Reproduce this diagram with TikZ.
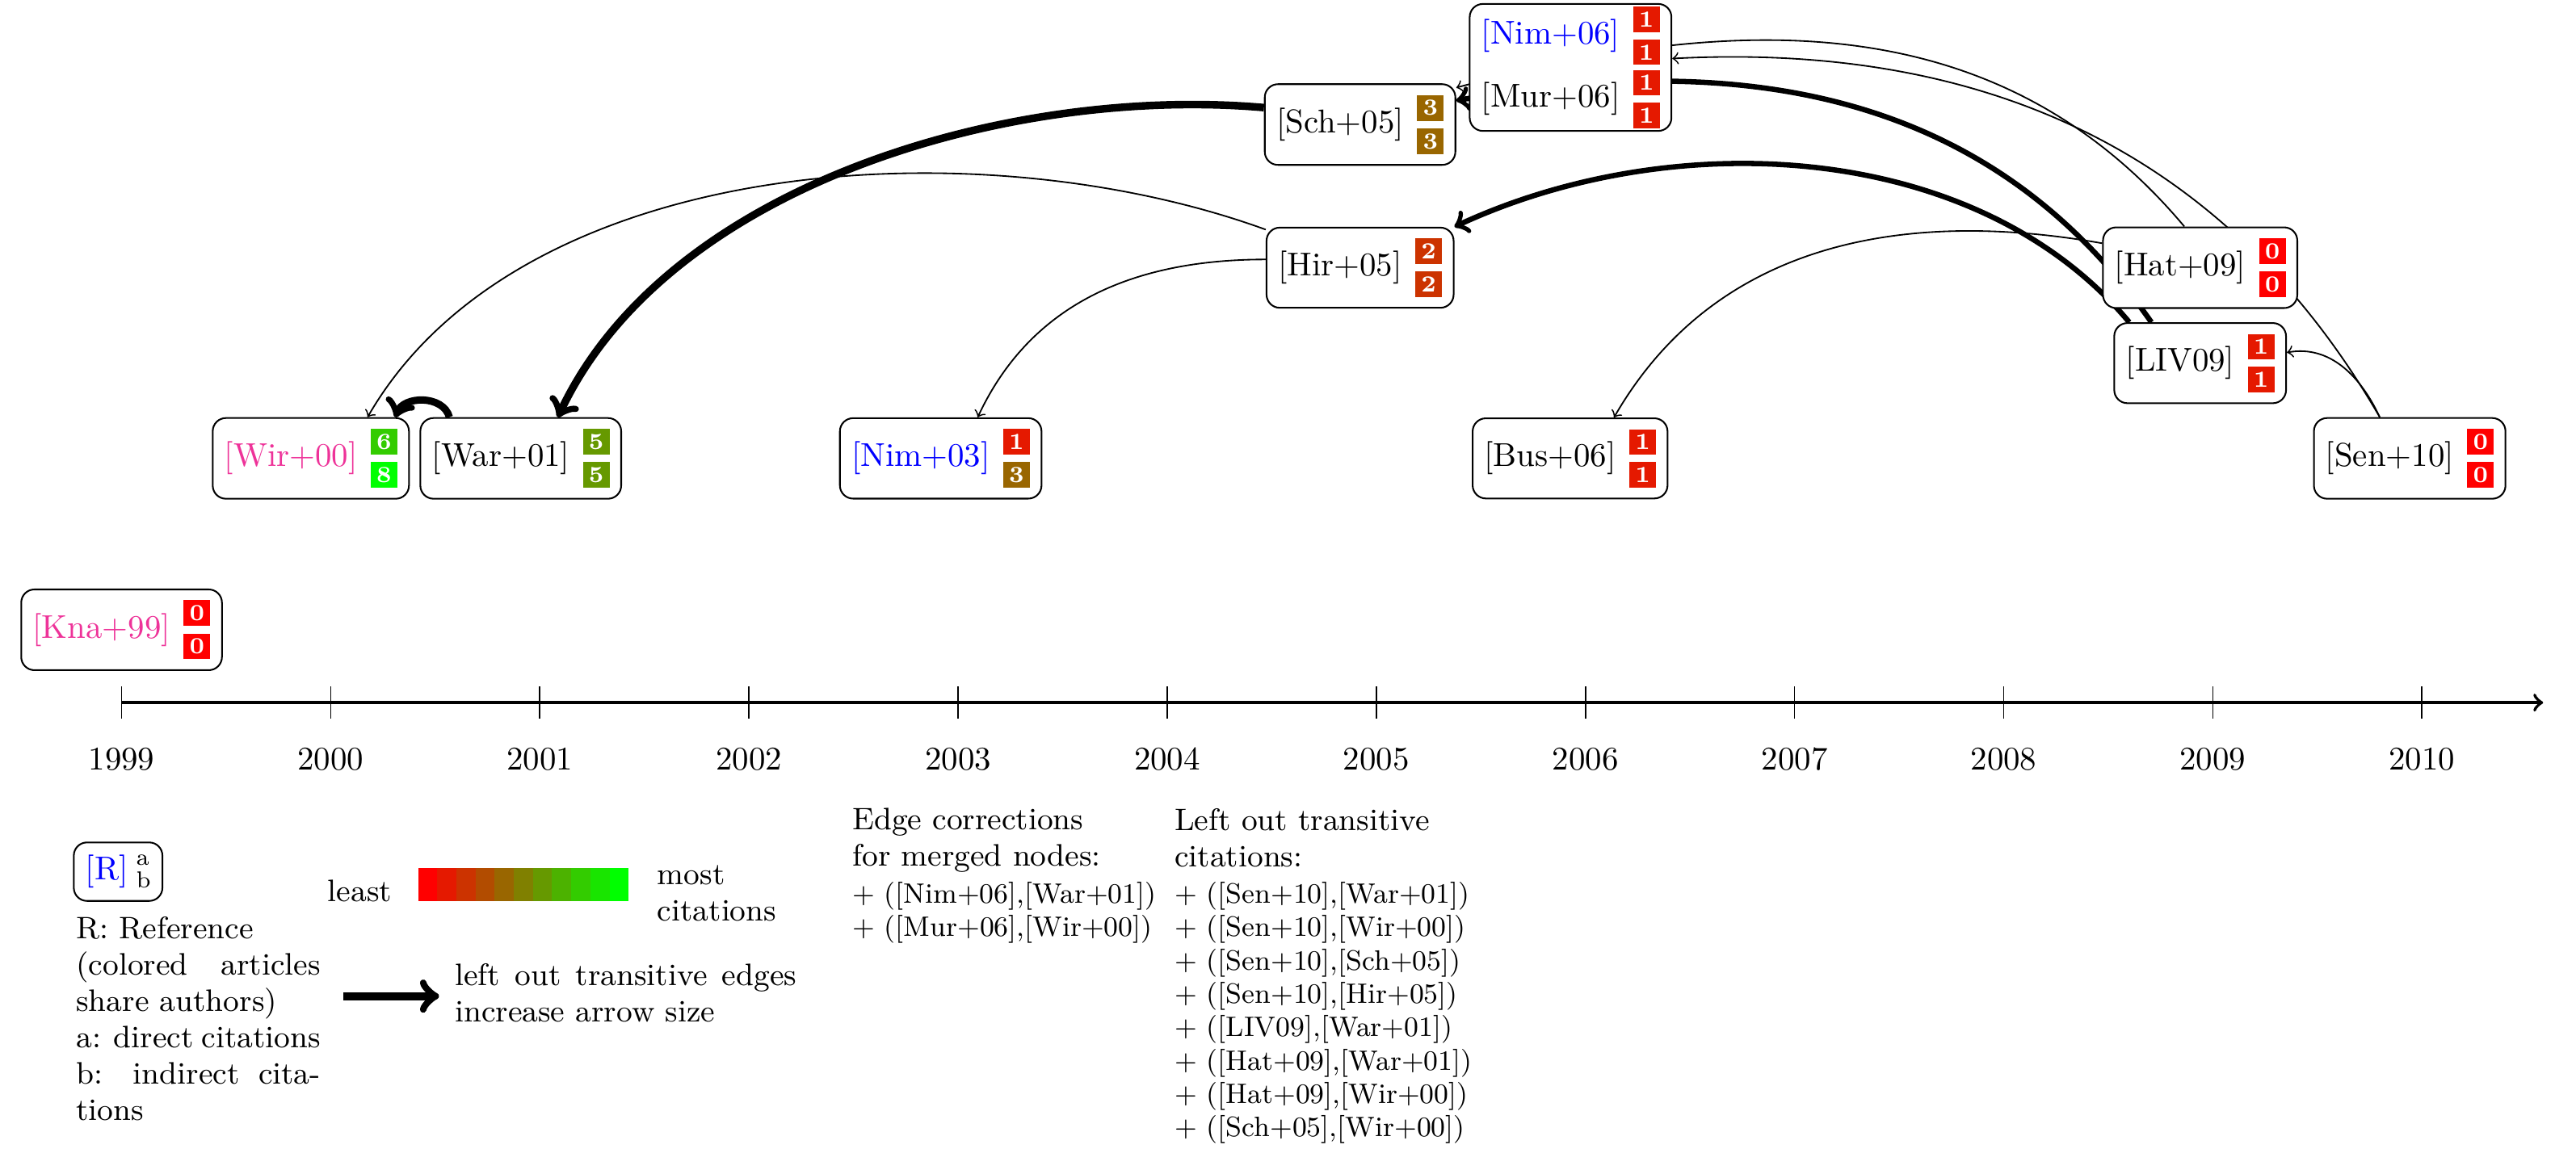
\documentclass[tikz,border=0pt]{standalone}
\usepackage{fontspec}
\usetikzlibrary{backgrounds}

\definecolor{refblue}{RGB}{0,0,255}
\definecolor{coauthor}{RGB}{238,51,153}

% citation counts: #1 = share of red, #2 = number
\newcommand{\cnt}[2]{{\setlength{\fboxsep}{1.55pt}%
    \colorbox{red!#1!green}{\makebox[5pt]{\color{white}\scriptsize\bfseries #2}}}}
\newcommand{\cnts}[4]{$\vcenter{\offinterlineskip
    \hbox{\cnt{#1}{#2}}\vskip2.3pt\hbox{\cnt{#3}{#4}}}$}
\newcommand{\art}[5]{#1\hspace{4pt}\cnts{#2}{#3}{#4}{#5}}
\newcommand{\legendfont}{\fontsize{9.4}{11}\selectfont}
\newcommand{\listfont}{\fontsize{8.5}{10.1}\selectfont}

\begin{document}
\begin{tikzpicture}[%
        paper/.style={draw, rounded corners=4pt, fill=white, line width=0.5pt,
            inner xsep=3.5pt, inner ysep=3.3pt},
        cite/.style={->, line width=0.45pt},
        legend/.style={inner sep=0pt, font=\legendfont}
    ]
        \useasboundingbox (-1.294,-4.973) rectangle (26.12,7.48);

        % time line
        \coordinate (t0) at (0,0);
        \coordinate (t1) at (25.77,0);
        \draw [->, line width=1pt] (t0) -- (t1);
        \foreach \y [count=\i from 0] in {1999,...,2010} {
            \draw (\i*2.2255,-0.17) -- (\i*2.2255,0.17);
            \node (y\y) at (\i*2.2255,-0.6) {\y};
        }

        % articles
        \node [paper] (kna) at (0,0.775)
            {\art{\textcolor{coauthor}{[Kna+99]}}{100}{0}{100}{0}};
        \node [paper] (wir) at (2.014,2.6)
            {\art{\textcolor{coauthor}{[Wir+00]}}{20}{6}{0}{8}};
        \node [paper] (war) at (4.248,2.6) {\art{[War+01]}{40}{5}{40}{5}};
        \node [paper] (nim3) at (8.717,2.6)
            {\art{\textcolor{refblue}{[Nim+03]}}{90}{1}{60}{3}};
        \node [paper] (bus) at (15.415,2.6) {\art{[Bus+06]}{90}{1}{90}{1}};
        \node [paper] (sen) at (24.35,2.6) {\art{[Sen+10]}{100}{0}{100}{0}};
        \node [paper] (liv) at (22.12,3.614) {\art{[LIV09]}{90}{1}{90}{1}};
        \node [paper] (hat) at (22.12,4.63) {\art{[Hat+09]}{100}{0}{100}{0}};
        \node [paper] (hir) at (13.18,4.63) {\art{[Hir+05]}{80}{2}{80}{2}};
        \node [paper] (sch) at (13.18,6.154) {\art{[Sch+05]}{60}{3}{60}{3}};
        \node [paper, inner ysep=0.8pt] (mrg) at (15.42,6.762) {\vbox{\offinterlineskip
            \hbox{\art{\textcolor{refblue}{[Nim+06]}}{90}{1}{90}{1}}\vskip1.5pt
            \hbox{\art{[Mur+06]}{90}{1}{90}{1}}}};

        % citations
        \begin{pgfonlayer}{background}
            \draw [cite, line width=2.3pt] (sch.170) to [out=175, in=65, looseness=0.85] (war.48);
            \draw [cite, line width=2.2pt] (war.150) to [out=105, in=70, looseness=1.1] (wir.26);
            \draw [cite] (hir.158) to [out=160, in=60, looseness=0.85] (wir.36);
            \draw [cite] (hir.175) to [out=180, in=65] (nim3.48);
            \draw [cite, line width=1.6pt] (liv.140) to [out=125, in=10] (sch.14);
            \draw [cite] (hat.111) to [out=130, in=15] (sch.21);
            \draw [cite, line width=1.6pt] (liv.150) to [out=130, in=25, looseness=0.9] (hir.north east);
            \draw [cite] (sen.126) to [out=120, in=3] (mrg.5);
            \draw [cite] (hat.166) to [out=170, in=60] (bus.43);
            \draw [cite] (sen.126) to [out=115, in=10] (liv.7);
        \end{pgfonlayer}

        % legend
        \node [paper, inner ysep=3.8pt] (key) at (-0.037,-1.80)
            {\textcolor{refblue}{[R]}\hspace{2.5pt}$\vcenter{\offinterlineskip
            \hbox{\scriptsize a}\vskip2pt\hbox{\scriptsize b}}$};
        \node [legend, text width=74pt, align=justify, anchor=north west] (keytext)
            at (-0.49,-2.273) {\tolerance=10000 \hbadness=10000
            R: Reference\\(colored articles share authors)\\a: direct citations\\b: indirect citations};

        \node [legend, anchor=base] (least) at (2.535,-2.115) {least};
        \foreach \i in {0,...,10} {
            \pgfmathtruncatemacro{\share}{100-10*\i}
            \fill [red!\share!green] (3.157+0.2035*\i,-2.115) rectangle ++(0.2035,0.356);
        }
        \node [legend, align=left, anchor=north west] (most) at (5.696,-1.726) {most\\citations};

        \coordinate (arrA) at (2.363,-3.125);
        \coordinate (arrB) at (3.378,-3.125);
        \draw [cite, line width=2.45pt] (arrA) -- (arrB);
        \node [legend, text width=103.5pt, align=justify, anchor=north west] (arrtext)
            at (3.54,-2.771) {\tolerance=10000 left out transitive edges increase arrow size};

        \node [legend, align=left, anchor=north west] (corrhead) at (7.77,-1.12)
            {Edge corrections\\for merged nodes:};
        \node [legend, font=\listfont, align=left, anchor=north west] (corrlist) at (7.77,-1.905)
            {+ ([Nim+06],[War+01])\\+ ([Mur+06],[Wir+00])};
        \node [legend, align=left, anchor=north west] (transhead) at (11.2,-1.12)
            {Left out transitive\\citations:};
        \node [legend, font=\listfont, align=left, anchor=north west] (translist) at (11.2,-1.905)
            {+ ([Sen+10],[War+01])\\+ ([Sen+10],[Wir+00])\\+ ([Sen+10],[Sch+05])\\%
            + ([Sen+10],[Hir+05])\\+ ([LIV09],[War+01])\\+ ([Hat+09],[War+01])\\%
            + ([Hat+09],[Wir+00])\\+ ([Sch+05],[Wir+00])};
    \end{tikzpicture}
\end{document}
